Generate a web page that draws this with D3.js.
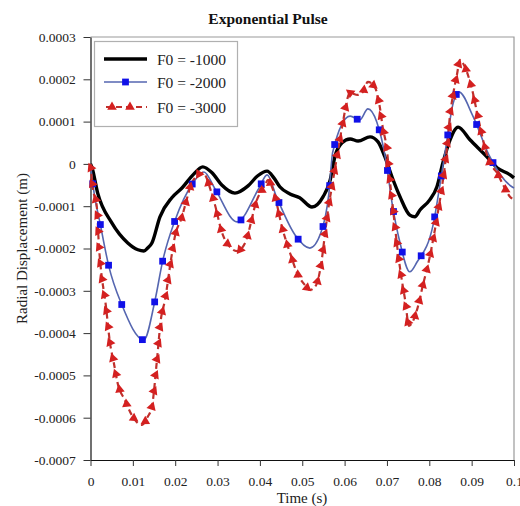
<!DOCTYPE html>
<html>
<head>
<meta charset="utf-8">
<script src="https://cdn.jsdelivr.net/npm/d3@7"></script>
<style>
  html, body { margin: 0; padding: 0; background: #fff; }
  svg { display: block; }
</style>
</head>
<body>
<svg id="chart" width="520" height="506"></svg>
<script>
// Radial displacement response to an exponential pulse, three load amplitudes.
const chartTitle = "Exponential Pulse";
const xTitle = "Time (s)";
const yTitle = "Radial Displacement (m)";

const xTicks = [0, 0.01, 0.02, 0.03, 0.04, 0.05, 0.06, 0.07, 0.08, 0.09, 0.1];
const xTickLabels = ["0", "0.01", "0.02", "0.03", "0.04", "0.05", "0.06", "0.07", "0.08", "0.09", "0.1"];
const yTicks = [0.0003, 0.0002, 0.0001, 0, -0.0001, -0.0002, -0.0003, -0.0004, -0.0005, -0.0006, -0.0007];
const yTickLabels = ["0.0003", "0.0002", "0.0001", "0", "-0.0001", "-0.0002", "-0.0003", "-0.0004", "-0.0005", "-0.0006", "-0.0007"];

const seriesNames = ["F0 = -1000", "F0 = -2000", "F0 = -3000"];

// F0 = -1000
const timeA = [0, 0.0003, 0.0017, 0.005, 0.0088, 0.0112, 0.0126, 0.0135, 0.0145, 0.0164, 0.0192, 0.0216, 0.0242, 0.0265, 0.0287, 0.031, 0.0341, 0.0372, 0.0395, 0.0417, 0.0433, 0.0447, 0.0471, 0.0494, 0.0523, 0.0549, 0.0566, 0.0577, 0.0594, 0.0613, 0.0632, 0.066, 0.0679, 0.0695, 0.0712, 0.0731, 0.0754, 0.0766, 0.0778, 0.0801, 0.0818, 0.0832, 0.0849, 0.0868, 0.0896, 0.0936, 0.096, 0.0991, 0.1];
const dispA = [0, -0.000007, -0.000069, -0.000139, -0.000187, -0.000203, -0.000206, -0.000199, -0.000187, -0.000125, -0.00008, -0.000057, -0.000026, -0.000007, -0.000021, -0.00005, -0.000069, -0.000052, -0.000028, -0.000017, -0.000033, -0.000054, -0.000071, -0.00008, -0.000102, -0.000078, -0.000038, 0.000017, 0.00005, 0.000059, 0.000054, 0.000064, 0.000052, 0.000017, -0.000031, -0.000078, -0.000121, -0.000125, -0.000109, -0.000085, -0.000054, 0.000002, 0.000057, 0.000087, 0.000057, 0.000017, -0.000009, -0.000026, -0.000033];

// F0 = -2000
const timeB = [0, 0.0005, 0.0024, 0.0043, 0.0074, 0.0126, 0.0152, 0.0171, 0.0199, 0.0242, 0.0268, 0.0294, 0.0346, 0.0398, 0.0417, 0.044, 0.0483, 0.0518, 0.0544, 0.0563, 0.0572, 0.0613, 0.0636, 0.0655, 0.0676, 0.0698, 0.0712, 0.0731, 0.0754, 0.0771, 0.0809, 0.0825, 0.084, 0.0856, 0.087, 0.0903, 0.0941, 0.0995, 0.1];
const dispB = [0, -0.000045, -0.000147, -0.000241, -0.000333, -0.000416, -0.000324, -0.000227, -0.000135, -0.000045, -0.000019, -0.000059, -0.000137, -0.000057, -0.000026, -0.00008, -0.000168, -0.000199, -0.000163, -0.000069, 0.000028, 0.000113, 0.000104, 0.00013, 0.000099, 0.000005, -0.000092, -0.000187, -0.000255, -0.000232, -0.000144, -0.00005, 0.000045, 0.000142, 0.00017, 0.000113, 0.000021, -0.000054, -0.000057];

// F0 = -3000
const timeC = [0, 0.0005, 0.0015, 0.002, 0.0024, 0.0036, 0.0046, 0.0055, 0.0064, 0.0081, 0.01, 0.0121, 0.0135, 0.0145, 0.0157, 0.0166, 0.0176, 0.019, 0.0199, 0.0216, 0.0227, 0.0239, 0.0265, 0.0287, 0.0294, 0.031, 0.0329, 0.0346, 0.0365, 0.0393, 0.0412, 0.0419, 0.0431, 0.0454, 0.0471, 0.0488, 0.0506, 0.0518, 0.0532, 0.0546, 0.0554, 0.0561, 0.057, 0.0582, 0.0594, 0.0613, 0.0631, 0.0643, 0.0655, 0.0672, 0.0683, 0.069, 0.07, 0.0706, 0.0712, 0.0719, 0.0726, 0.0735, 0.0743, 0.0752, 0.0771, 0.0785, 0.0801, 0.0811, 0.082, 0.083, 0.0842, 0.0849, 0.0856, 0.0866, 0.0872, 0.0884, 0.09, 0.0915, 0.0931, 0.0943, 0.096, 0.0972, 0.0991, 0.1];
const dispC = [0, -0.000054, -0.000102, -0.000196, -0.000243, -0.000333, -0.000423, -0.00047, -0.000518, -0.000558, -0.000598, -0.000617, -0.000598, -0.000574, -0.000463, -0.000369, -0.000321, -0.000227, -0.000173, -0.000125, -0.000085, -0.000045, -0.000021, -0.000073, -0.000097, -0.000161, -0.000196, -0.000206, -0.000187, -0.000085, -0.00005, -0.000038, -0.000061, -0.000156, -0.00021, -0.000258, -0.000286, -0.000298, -0.000288, -0.000227, -0.000163, -0.000109, -0.000054, 0.000017, 0.000087, 0.000168, 0.000163, 0.00017, 0.000194, 0.00018, 0.000135, 0.000087, 0.000033, -0.000031, -0.000085, -0.000149, -0.00021, -0.000274, -0.000322, -0.000383, -0.000345, -0.000286, -0.00022, -0.000168, -0.000116, -0.000054, 0.00004, 0.000116, 0.000163, 0.000215, 0.000246, 0.000229, 0.00018, 0.000111, 0.00004, 0.000002, -0.000021, -0.000045, -0.000078, -0.000085];

const svg = d3.select("#chart");
const serif = "'Liberation Serif', 'Times New Roman', serif";

const x = d3.scaleLinear().domain([0, 0.1]).range([90.5, 514]);
const y = d3.scaleLinear().domain([-0.0007, 0.0003]).range([460, 37]);

// frame: grey top and right edges
svg.append("path")
  .attr("d", `M${x(0)},${y(0.0003)}H${x(0.1)}V${y(-0.0007)}`)
  .attr("fill", "none").attr("stroke", "#9a9a9a").attr("stroke-width", 1.2);

// axes
const xAxis = d3.axisBottom(x).tickValues(xTicks).tickSize(6).tickSizeOuter(0)
  .tickFormat((d, i) => xTickLabels[i]);
const yAxis = d3.axisLeft(y).tickValues(yTicks).tickSize(7).tickSizeOuter(0)
  .tickFormat((d, i) => yTickLabels[i]);

const gx = svg.append("g").attr("transform", `translate(0,${y(-0.0007)})`).call(xAxis);
const gy = svg.append("g").attr("transform", `translate(${x(0)},0)`).call(yAxis);
[gx, gy].forEach(g => {
  g.select(".domain").attr("stroke", "#111").attr("stroke-width", 1.2);
  g.selectAll(".tick line").attr("stroke", "#333");
  g.selectAll(".tick text").attr("font-family", serif).attr("font-size", 13.5).attr("fill", "#222");
});
gx.selectAll(".tick text").attr("dy", "1.25em");
gy.selectAll(".tick text").attr("dx", "-0.35em");

// titles
svg.append("text").attr("x", 268).attr("y", 24).attr("text-anchor", "middle")
  .attr("font-family", serif).attr("font-weight", "bold").attr("font-size", 15.5).attr("fill", "#111")
  .text(chartTitle);
svg.append("text").attr("x", 302).attr("y", 503).attr("text-anchor", "middle")
  .attr("font-family", serif).attr("font-size", 15).attr("fill", "#222")
  .text(xTitle);
svg.append("text").attr("transform", `translate(27,${(y(0.0003) + y(-0.0007)) / 2}) rotate(-90)`)
  .attr("text-anchor", "middle")
  .attr("font-family", serif).attr("font-size", 15).attr("fill", "#222")
  .text(yTitle);

const line = d3.line().x(d => x(d[0])).y(d => y(d[1])).curve(d3.curveMonotoneX);
const pairs = (ts, vs) => ts.map((t, i) => [t, vs[i]]);

const plot = svg.append("g");

// F0 = -1000: thick black line
plot.append("path").attr("d", line(pairs(timeA, dispA)))
  .attr("fill", "none").attr("stroke", "#000").attr("stroke-width", 3.4).attr("stroke-linejoin", "round");

// F0 = -2000: thin blue line with square markers
const pathB = plot.append("path").attr("d", line(pairs(timeB, dispB)))
  .attr("fill", "none").attr("stroke", "#5566b0").attr("stroke-width", 1.6);

// F0 = -3000: dashed red line with triangle markers
const pathC = plot.append("path").attr("d", line(pairs(timeC, dispC)))
  .attr("fill", "none").attr("stroke", "#c0302c").attr("stroke-width", 2.2)
  .attr("stroke-dasharray", "6,4");

// markers spaced evenly along each drawn curve
function markersAlong(pathSel, start, step) {
  const node = pathSel.node();
  const len = node.getTotalLength();
  const pts = [];
  for (let s = start; s <= len; s += step) {
    const p = node.getPointAtLength(s);
    const a = node.getPointAtLength(Math.max(0, s - 1));
    const b = node.getPointAtLength(Math.min(len, s + 1));
    pts.push({ x: p.x, y: p.y, ang: Math.atan2(b.y - a.y, b.x - a.x) * 180 / Math.PI });
  }
  return pts;
}

const sq = d3.symbol().type(d3.symbolSquare).size(46)();
plot.append("g").selectAll("path").data(markersAlong(pathB, 20, 41.5)).join("path")
  .attr("d", sq).attr("transform", d => `translate(${d.x},${d.y})`)
  .attr("fill", "#1010e8");

const tri = d3.symbol().type(d3.symbolTriangle).size(40)();
plot.append("g").selectAll("path").data(markersAlong(pathC, 4, 16)).join("path")
  .attr("d", tri).attr("transform", d => `translate(${d.x},${d.y}) rotate(${180 - d.ang})`)
  .attr("fill", "#d42020");

// legend
const lg = svg.append("g");
lg.append("rect").attr("x", 94.5).attr("y", 41.5).attr("width", 143).attr("height", 85)
  .attr("fill", "#fff").attr("stroke", "#b0b0b0").attr("stroke-width", 1.2);
const rowsY = [59, 82, 107];
const lx0 = 104, lx1 = 147;
lg.append("line").attr("x1", lx0).attr("x2", lx1).attr("y1", rowsY[0]).attr("y2", rowsY[0])
  .attr("stroke", "#000").attr("stroke-width", 3.4);
lg.append("line").attr("x1", lx0).attr("x2", lx1).attr("y1", rowsY[1]).attr("y2", rowsY[1])
  .attr("stroke", "#5566b0").attr("stroke-width", 1.6);
lg.append("path").attr("d", sq).attr("transform", `translate(${(lx0 + lx1) / 2},${rowsY[1]})`)
  .attr("fill", "#1010e8");
lg.append("line").attr("x1", lx0).attr("x2", lx1).attr("y1", rowsY[2]).attr("y2", rowsY[2])
  .attr("stroke", "#c0302c").attr("stroke-width", 2.2).attr("stroke-dasharray", "6,4")
  .attr("stroke-dashoffset", -2);
[112, 130].forEach(cx => lg.append("path").attr("d", tri)
  .attr("transform", `translate(${cx},${rowsY[2]})`).attr("fill", "#d42020"));
lg.selectAll("text.lab").data(seriesNames).join("text").attr("class", "lab")
  .attr("x", 157).attr("y", (d, i) => rowsY[i] + 5.5)
  .attr("font-family", serif).attr("font-size", 15.5).attr("fill", "#222")
  .text(d => d);
</script>
</body>
</html>
